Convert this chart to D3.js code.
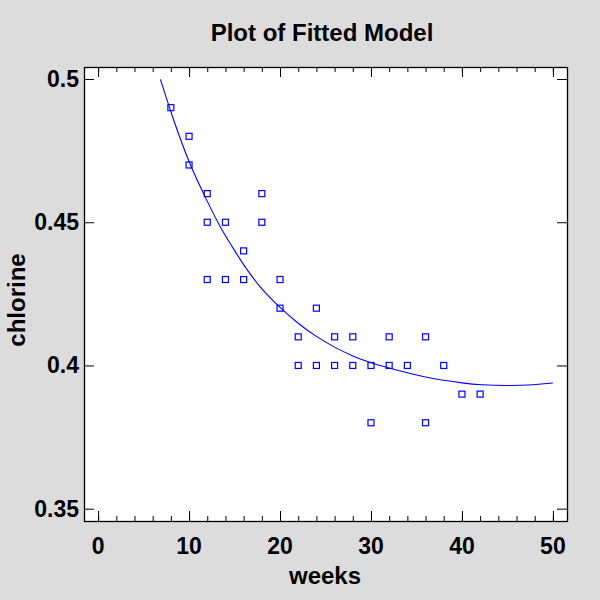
<!DOCTYPE html>
<html>
<head>
<meta charset="utf-8">
<script src="https://cdn.jsdelivr.net/npm/d3@7"></script>
<style>
  body { margin: 0; background: #dcdcdc; }
  text { font-family: "Liberation Sans", Arial, sans-serif; font-weight: bold; fill: #000; }
</style>
</head>
<body>
<div id="chart"></div>
<script>
// observed points
var weeks    = [8, 10, 10, 12, 12, 12, 14, 14, 16, 16, 18, 18, 20, 20, 22, 22, 24, 24,
                26, 26, 28, 28, 30, 30, 32, 32, 34, 36, 36, 38, 40, 42];
var chlorine = [0.49, 0.48, 0.47, 0.46, 0.45, 0.43, 0.45, 0.43, 0.44, 0.43, 0.46, 0.45,
                0.43, 0.42, 0.41, 0.40, 0.42, 0.40, 0.41, 0.40, 0.41, 0.40, 0.40, 0.38,
                0.41, 0.40, 0.40, 0.41, 0.38, 0.40, 0.39, 0.39];

// fitted curve
var fitX = [6.85, 8, 10, 12, 13.4, 14.8, 15.9, 17.8, 20, 22, 24, 26, 28, 30, 32, 34,
            36, 38, 40, 42, 45, 48, 50];
var fitY = [0.4999, 0.4883, 0.4704, 0.4573, 0.4483, 0.4412, 0.4355, 0.4271, 0.4201,
            0.4146, 0.4100, 0.4063, 0.4032, 0.4009, 0.3991, 0.3974, 0.3959, 0.3948,
            0.3939, 0.3932, 0.3929, 0.3932, 0.3939];

var xTicks = [0, 10, 20, 30, 40, 50];
var xMinor = d3.range(0, 52, 2);
var yTicks = [0.35, 0.4, 0.45, 0.5];
var yTickLabels = ["0.35", "0.4", "0.45", "0.5"];

var width = 600, height = 600;
var plot = { left: 84, right: 567, top: 67, bottom: 521 };

var svg = d3.select("#chart")
            .append("svg")
            .attr("width", width)
            .attr("height", height);

svg.append("rect")
   .attr("width", width).attr("height", height)
   .style("fill", "#dcdcdc");

var x = d3.scaleLinear().domain([-1.55, 51.55]).range([plot.left, plot.right]);
var y = d3.scaleLinear().domain([0.3457, 0.5042]).range([plot.bottom, plot.top]);

svg.append("rect")
   .attr("x", plot.left).attr("y", plot.top)
   .attr("width", plot.right - plot.left)
   .attr("height", plot.bottom - plot.top)
   .style("fill", "#fff");

function tidy(g) {
  g.select(".domain").remove();
  g.selectAll(".tick line").attr("stroke", "#000").attr("stroke-width", 1);
  g.selectAll(".tick text").remove();
}

// ticks, pointing inward on all four sides
svg.append("g").attr("transform", "translate(0," + plot.bottom + ")")
   .call(d3.axisBottom(x).tickValues(xTicks).tickSize(-10)).call(tidy);
svg.append("g").attr("transform", "translate(0," + plot.bottom + ")")
   .call(d3.axisBottom(x).tickValues(xMinor).tickSize(-5)).call(tidy);
svg.append("g").attr("transform", "translate(0," + plot.top + ")")
   .call(d3.axisTop(x).tickValues(xTicks).tickSize(-10)).call(tidy);
svg.append("g").attr("transform", "translate(0," + plot.top + ")")
   .call(d3.axisTop(x).tickValues(xMinor).tickSize(-5)).call(tidy);
svg.append("g").attr("transform", "translate(" + plot.left + ",0)")
   .call(d3.axisLeft(y).tickValues(yTicks).tickSize(-10)).call(tidy);
svg.append("g").attr("transform", "translate(" + plot.right + ",0)")
   .call(d3.axisRight(y).tickValues(yTicks).tickSize(-10)).call(tidy);

// frame
svg.append("rect")
   .attr("x", plot.left + 0.5).attr("y", plot.top + 0.5)
   .attr("width", plot.right - plot.left)
   .attr("height", plot.bottom - plot.top)
   .style("fill", "none").style("stroke", "#000").style("stroke-width", 1.3);

// tick labels
svg.append("g").selectAll("text")
   .data(xTicks).enter().append("text")
   .attr("x", function(d) { return x(d); })
   .attr("y", 554)
   .attr("text-anchor", "middle")
   .style("font-size", "23px")
   .text(function(d) { return d; });

svg.append("g").selectAll("text")
   .data(yTicks).enter().append("text")
   .attr("x", 79)
   .attr("y", function(d) { return y(d) + 8; })
   .attr("text-anchor", "end")
   .style("font-size", "23px")
   .text(function(d, i) { return yTickLabels[i]; });

// titles
svg.append("text")
   .attr("x", 322).attr("y", 41)
   .attr("text-anchor", "middle")
   .style("font-size", "24px")
   .text("Plot of Fitted Model");

svg.append("text")
   .attr("x", 325).attr("y", 584)
   .attr("text-anchor", "middle")
   .style("font-size", "24px")
   .text("weeks");

svg.append("text")
   .attr("transform", "translate(25,300) rotate(-90)")
   .attr("text-anchor", "middle")
   .style("font-size", "24px")
   .text("chlorine");

// fitted line
var line = d3.line()
             .x(function(d, i) { return x(fitX[i]); })
             .y(function(d) { return y(d); })
             .curve(d3.curveBasis);

svg.append("path")
   .datum(fitY)
   .attr("d", line)
   .style("fill", "none")
   .style("stroke", "#0000ff")
   .style("stroke-width", 1.1);

// data squares
svg.append("g").selectAll("rect")
   .data(chlorine).enter().append("rect")
   .attr("x", function(d, i) { return x(weeks[i]) - 3; })
   .attr("y", function(d) { return y(d) - 3; })
   .attr("width", 6)
   .attr("height", 6)
   .style("fill", "none")
   .style("stroke", "#0000ff")
   .style("stroke-width", 1.2);
</script>
</body>
</html>
